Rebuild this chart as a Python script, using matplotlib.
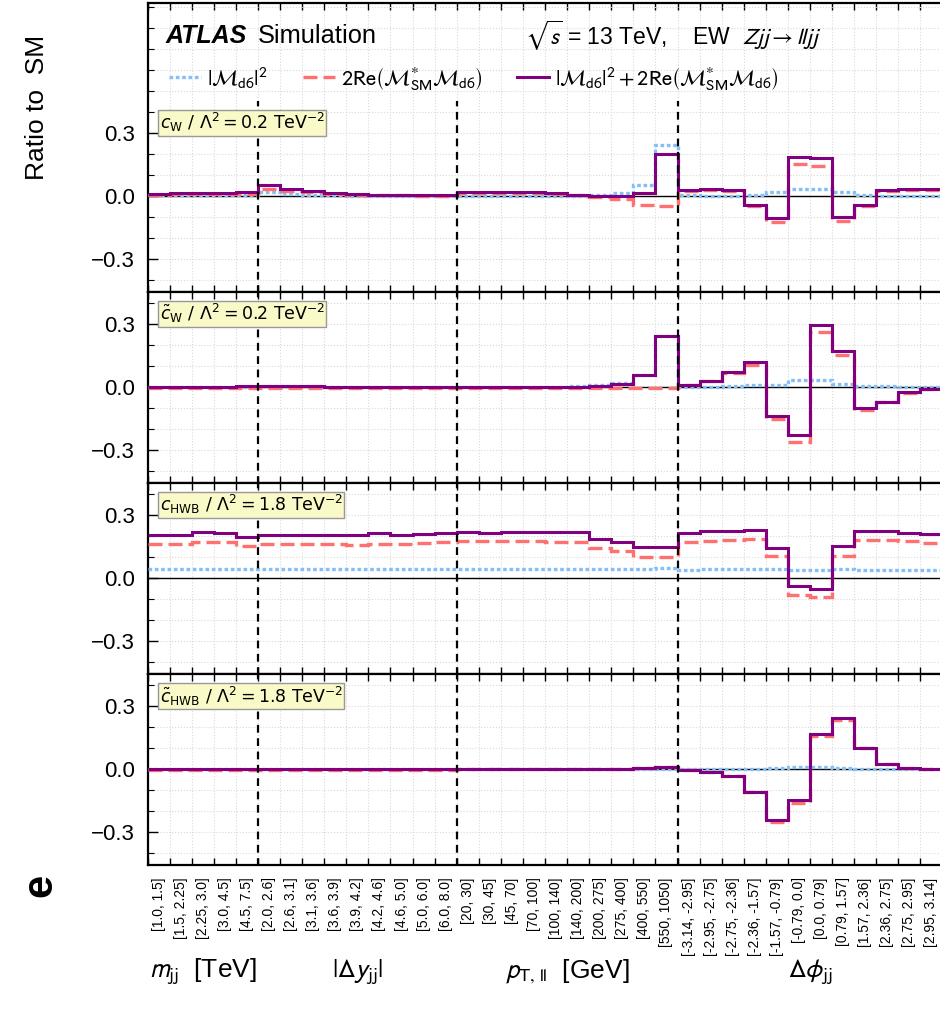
import numpy as np
import matplotlib
matplotlib.use('Agg')
import matplotlib.pyplot as plt
from matplotlib.lines import Line2D
import matplotlib.transforms as mtrans

plt.rcParams['font.family'] = ['Liberation Sans', 'DejaVu Sans']
plt.rcParams['mathtext.fontset'] = 'stixsans'

# bin labels of the four observables
mjj_bins = ['[1.0, 1.5]', '[1.5, 2.25]', '[2.25, 3.0]', '[3.0, 4.5]', '[4.5, 7.5]']
dy_bins = ['[2.0, 2.6]', '[2.6, 3.1]', '[3.1, 3.6]', '[3.6, 3.9]', '[3.9, 4.2]',
           '[4.2, 4.6]', '[4.6, 5.0]', '[5.0, 6.0]', '[6.0, 8.0]']
pt_bins = ['[20, 30]', '[30, 45]', '[45, 70]', '[70, 100]', '[100, 140]', '[140, 200]',
           '[200, 275]', '[275, 400]', '[400, 550]', '[550, 1050]']
dphi_bins = ['[-3.14, -2.95]', '[-2.95, -2.75]', '[-2.75, -2.36]', '[-2.36, -1.57]',
             '[-1.57, -0.79]', '[-0.79, 0.0]', '[0.0, 0.79]', '[0.79, 1.57]',
             '[1.57, 2.36]', '[2.36, 2.75]', '[2.75, 2.95]', '[2.95, 3.14]']
obs_names = [r'$m_{\rm jj}$  [TeV]', r'$|\Delta y_{\rm jj}|$', r'$p_{\rm T,\,ll}$  [GeV]', r'$\Delta\phi_{\rm jj}$']

panel_text = [r'$c_{\rm W}\ /\ \Lambda^2 = 0.2\ {\rm TeV}^{-2}$',
              r'$\tilde{c}_{\rm W}\ /\ \Lambda^2 = 0.2\ {\rm TeV}^{-2}$',
              r'$c_{\rm HWB}\ /\ \Lambda^2 = 1.8\ {\rm TeV}^{-2}$',
              r'$\tilde{c}_{\rm HWB}\ /\ \Lambda^2 = 1.8\ {\rm TeV}^{-2}$']

# |M_d6|^2 (quadratic), per panel, bins: mjj | dy | pt | dphi
quad_cW = [0.005, 0.005, 0.006, 0.006, 0.007,
           0.02, 0.01, 0.007, 0.005, 0.003, 0.003, 0.003, 0.002, 0.002,
           0.003, 0.003, 0.003, 0.003, 0.003, 0.003, 0.005, 0.015, 0.055, 0.245,
           0.004, 0.003, 0.003, 0.007, 0.018, 0.035, 0.035, 0.022, 0.005, 0.003, 0.003, 0.002]
quad_cWt = [0.003, 0.003, 0.003, 0.003, 0.003,
            0.006, 0.005, 0.004, 0.003, 0.003, 0.002, 0.002, 0.002, 0.002,
            0.002, 0.002, 0.002, 0.003, 0.003, 0.005, 0.009, 0.019, 0.06, 0.245,
            0.002, 0.003, 0.004, 0.011, 0.011, 0.033, 0.033, 0.017, 0.008, 0.004, 0.003, 0.002]
quad_cHWB = [0.045, 0.045, 0.045, 0.045, 0.043,
             0.043, 0.043, 0.043, 0.043, 0.043, 0.043, 0.043, 0.044, 0.045,
             0.046, 0.045, 0.044, 0.044, 0.044, 0.044, 0.044, 0.044, 0.045, 0.047,
             0.041, 0.043, 0.043, 0.043, 0.045, 0.041, 0.038, 0.045, 0.042, 0.042, 0.042, 0.041]
quad_cHWBt = [0.001, 0.001, 0.001, 0.001, 0.001,
              0.001, 0.001, 0.001, 0.001, 0.001, 0.001, 0.001, 0.001, 0.001,
              0.001, 0.001, 0.001, 0.001, 0.001, 0.001, 0.001, 0.002, 0.002, 0.002,
              0.001, 0.002, 0.003, 0.003, 0.006, 0.012, 0.012, 0.007, 0.002, 0.002, 0.002, 0.002]

# 2Re(M_SM* M_d6) (interference)
int_cW = [0.008, 0.009, 0.01, 0.011, 0.012,
          0.035, 0.025, 0.02, 0.012, 0.006, 0.005, 0.004, 0.003, 0.002,
          0.015, 0.015, 0.016, 0.015, 0.011, 0.005, -0.004, -0.015, -0.04, -0.045,
          0.027, 0.03, 0.026, -0.049, -0.124, 0.152, 0.145, -0.12, -0.049, 0.026, 0.029, 0.03]
int_cWt = [-0.002, -0.002, -0.002, -0.002, -0.002,
           -0.003, -0.003, -0.003, -0.003, -0.003, -0.003, -0.003, -0.003, -0.003,
           -0.002, -0.002, -0.002, -0.002, -0.002, -0.002, -0.002, -0.002, -0.002, -0.002,
           0.009, 0.029, 0.069, 0.108, -0.152, -0.26, 0.265, 0.155, -0.108, -0.072, -0.027, -0.008]
int_cHWB = [0.163, 0.163, 0.175, 0.171, 0.152,
            0.163, 0.164, 0.165, 0.165, 0.159, 0.165, 0.163, 0.168, 0.172,
            0.176, 0.178, 0.178, 0.178, 0.175, 0.173, 0.144, 0.129, 0.102, 0.102,
            0.175, 0.18, 0.181, 0.189, 0.105, -0.078, -0.09, 0.106, 0.183, 0.183, 0.178, 0.17]
int_cHWBt = [-0.001, -0.001, -0.001, -0.001, -0.001,
             -0.001, -0.001, -0.001, -0.001, -0.001, -0.001, -0.001, -0.001, -0.001,
             0.0, 0.0, 0.0, 0.0, 0.0, 0.001, 0.002, 0.003, 0.005, 0.012,
             -0.004, -0.013, -0.032, -0.108, -0.248, -0.16, 0.157, 0.236, 0.1, 0.025, 0.006, 0.002]

# |M_d6|^2 + 2Re(M_SM* M_d6)
tot_cW = [0.012, 0.013, 0.015, 0.016, 0.018,
          0.052, 0.035, 0.027, 0.016, 0.009, 0.008, 0.007, 0.005, 0.004,
          0.018, 0.018, 0.019, 0.018, 0.014, 0.008, 0.002, 0.0, 0.015, 0.2,
          0.03, 0.033, 0.029, -0.042, -0.104, 0.188, 0.18, -0.098, -0.044, 0.029, 0.032, 0.032]
tot_cWt = [0.002, 0.002, 0.003, 0.003, 0.004,
           0.007, 0.006, 0.004, 0.003, 0.002, 0.002, 0.002, 0.001, 0.001,
           0.001, 0.001, 0.001, 0.001, 0.002, 0.003, 0.007, 0.017, 0.059, 0.245,
           0.011, 0.032, 0.073, 0.119, -0.138, -0.227, 0.298, 0.171, -0.1, -0.068, -0.024, -0.006]
tot_cHWB = [0.208, 0.208, 0.219, 0.215, 0.196,
            0.206, 0.207, 0.208, 0.208, 0.206, 0.216, 0.206, 0.21, 0.216,
            0.219, 0.216, 0.219, 0.219, 0.219, 0.219, 0.189, 0.175, 0.148, 0.149,
            0.216, 0.227, 0.224, 0.232, 0.146, -0.035, -0.051, 0.152, 0.227, 0.227, 0.216, 0.213]
tot_cHWBt = [0.001, 0.001, 0.002, 0.002, 0.004,
             0.001, 0.001, 0.001, 0.001, 0.001, 0.001, 0.001, 0.001, 0.001,
             0.001, 0.001, 0.001, 0.002, 0.003, 0.003, 0.003, 0.004, 0.006, 0.014,
             -0.003, -0.011, -0.03, -0.106, -0.24, -0.147, 0.17, 0.244, 0.103, 0.027, 0.008, 0.003]

quad = [quad_cW, quad_cWt, quad_cHWB, quad_cHWBt]
inter = [int_cW, int_cWt, int_cHWB, int_cHWBt]
total = [tot_cW, tot_cWt, tot_cHWB, tot_cHWBt]

labels = mjj_bins + dy_bins + pt_bins + dphi_bins
nb = len(labels)
edges = np.arange(nb + 1)
centers = edges[:-1] + 0.5
sec_sizes = [len(mjj_bins), len(dy_bins), len(pt_bins), len(dphi_bins)]
sec_edges = np.cumsum([0] + sec_sizes)

c_blue = '#84c0f7'
c_red = '#ff7070'
c_purple = '#800080'
ls_blue = (0, (1.1, 0.8))
ls_red = (0, (4.2, 1.8))

fig = plt.figure(figsize=(9.4, 10.19), dpi=100)
gs = fig.add_gridspec(4, 1, height_ratios=[1.375, 0.91, 0.91, 0.91], hspace=0,
                      left=147.6 / 940, right=942.5 / 940, top=1 - 3 / 1019, bottom=1 - 865 / 1019)
axes = [fig.add_subplot(gs[i]) for i in range(4)]

for i, ax in enumerate(axes):
    ax.stairs(quad[i], edges, baseline=None, color=c_blue, ls=ls_blue, lw=2.4, zorder=3)
    ax.stairs(inter[i], edges, baseline=None, color=c_red, ls=ls_red, lw=2.4, zorder=4)
    ax.stairs(total[i], edges, baseline=None, color=c_purple, lw=2.2, zorder=5)
    ax.axhline(0, color='black', lw=1.0, zorder=2)
    for xe in sec_edges[1:-1]:
        ax.plot([xe, xe], [-0.46, 0.455], color='black', lw=1.6, ls=(0, (3.5, 2.5)), zorder=6)
    ymax = 0.92 if i == 0 else 0.455
    ax.set_yticks([-0.3, 0.0, 0.3])
    ax.set_yticklabels(['\u22120.3', '0.0', '0.3'])
    ax.set_yticks(np.arange(-0.4, ymax, 0.1), minor=True)
    ax.set_xticks(edges)
    ax.set_xticks(centers, minor=True)
    ax.set_xlim(0, nb)
    ax.set_ylim(-0.455, ymax)
    ax.tick_params(axis='x', which='major', direction='in', top=True, bottom=True,
                   length=5, width=1.0, labelbottom=False)
    if i == 3:
        ax.set_xticklabels(labels, minor=True, rotation=90, fontsize=10)
        ax.tick_params(axis='x', which='minor', length=0, pad=9)
    else:
        ax.tick_params(axis='x', which='minor', length=0, labelbottom=False)
    ax.tick_params(axis='y', which='major', direction='in', length=7, width=1.0,
                   labelsize=16, pad=9)
    ax.tick_params(axis='y', which='minor', direction='in', length=4, width=0.8)
    ax.grid(axis='x', which='major', color='#d9d9d9', ls=':', lw=0.8)
    ax.grid(axis='y', which='both', color='#d9d9d9', ls=':', lw=0.8)
    ax.set_axisbelow(True)
    for sp in ax.spines.values():
        sp.set_linewidth(1.6)
    ax.text(0.55, 0.405, panel_text[i], fontsize=12.5, ha='left', va='top', zorder=10,
            math_fontfamily='dejavusans',
            bbox=dict(boxstyle='square,pad=0.08', fc='#fafac8', ec='#999999', lw=1.0))

ax1 = axes[0]
ax1.text(0.022, 0.886, 'ATLAS', transform=ax1.transAxes, fontsize=18,
         fontweight='bold', fontstyle='italic', va='center', ha='left')
ax1.text(0.139, 0.886, 'Simulation', transform=ax1.transAxes, fontsize=18.3,
         va='center', ha='left')
ax1.text(0.475, 0.886, r'$\sqrt{s}$ = 13 TeV,    EW  $Zjj \rightarrow lljj$',
         transform=ax1.transAxes, fontsize=16.5, va='center', ha='left')

handles = [Line2D([], [], color=c_blue, ls=ls_blue, lw=2.4),
           Line2D([], [], color=c_red, ls=ls_red, lw=2.4),
           Line2D([], [], color=c_purple, lw=2.2)]
leg_labels = [r'$|\mathcal{M}_{\rm d6}|^2$',
              r'$2{\rm Re}\left(\mathcal{M}_{\rm SM}^{*}\mathcal{M}_{\rm d6}\right)$',
              r'$|\mathcal{M}_{\rm d6}|^2 + 2{\rm Re}\left(\mathcal{M}_{\rm SM}^{*}\mathcal{M}_{\rm d6}\right)$']
ax1.legend(handles, leg_labels, ncol=3, loc='center left', bbox_to_anchor=(0.027, 0.74),
           frameon=False, fontsize=16.1, handlelength=1.45, handletextpad=0.25,
           columnspacing=1.55, borderaxespad=0, borderpad=0)

ax4 = axes[3]
trans = mtrans.blended_transform_factory(ax4.transData, fig.transFigure)
for k in range(4):
    xc = 0.5 * (sec_edges[k] + sec_edges[k + 1])
    ax4.text(xc, 1 - 972 / 1019, obs_names[k], transform=trans, fontsize=19,
             ha='center', va='center')

fig.text(37 / 940, 1 - 107 / 1019, 'Ratio to  SM', rotation=90, fontsize=19,
         ha='center', va='center')
fig.text(40 / 940, 1 - 885 / 1019, 'e', rotation=90, fontsize=30, fontweight='bold',
         ha='center', va='center')

fig.savefig('out.png', dpi=100)
